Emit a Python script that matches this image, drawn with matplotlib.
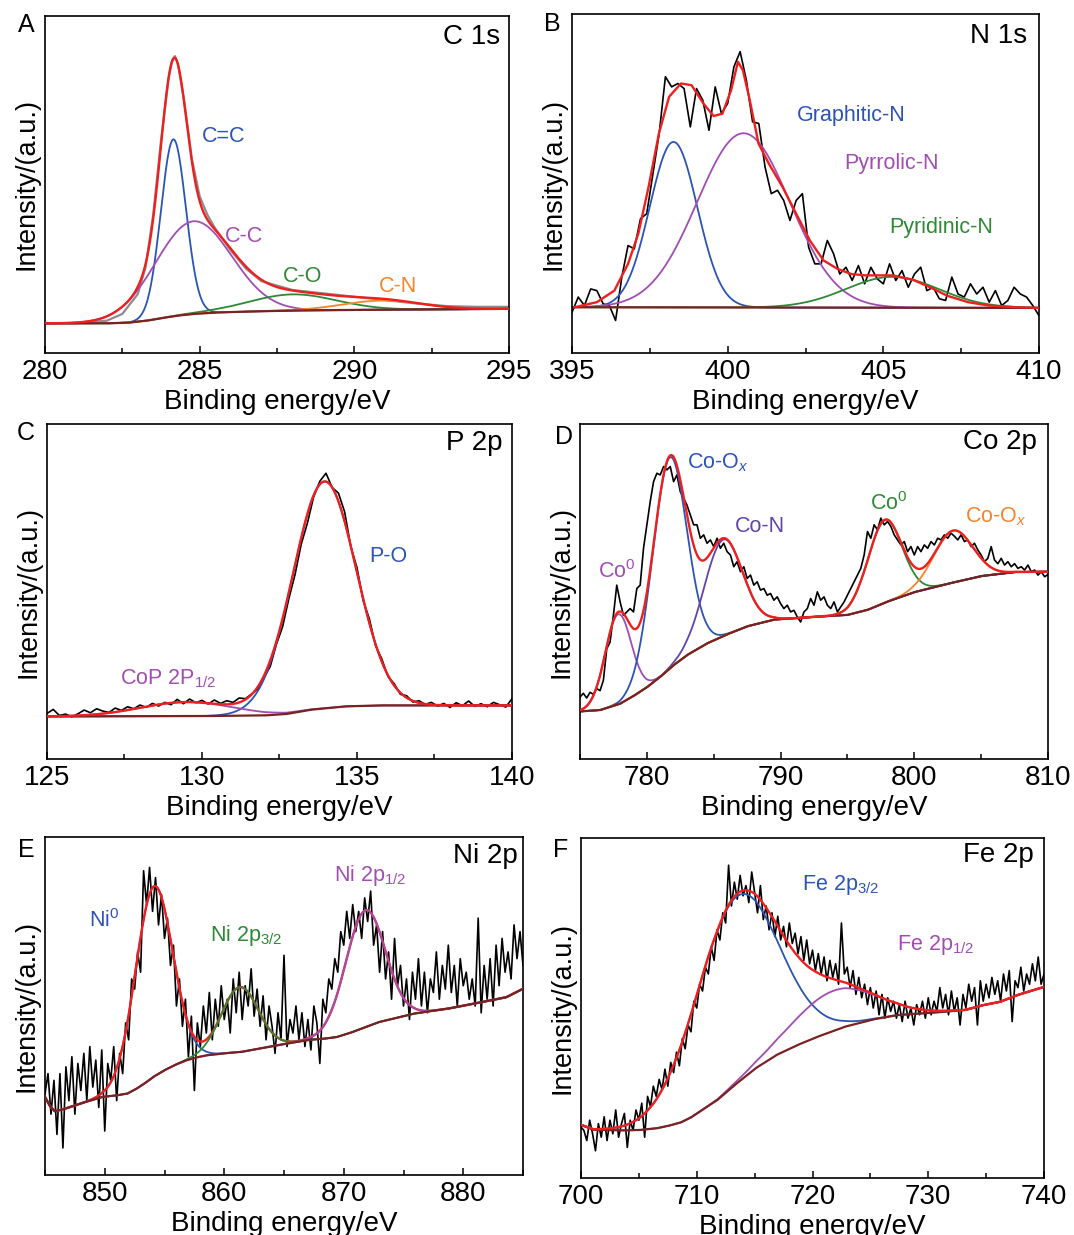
import numpy as np
import matplotlib.pyplot as plt
from matplotlib.ticker import MultipleLocator

plt.rcParams['font.family'] = ['Liberation Sans', 'DejaVu Sans']
plt.rcParams['mathtext.fontset'] = 'custom'
plt.rcParams['mathtext.rm'] = 'Liberation Sans'
plt.rcParams['mathtext.it'] = 'Liberation Sans:italic'
plt.rcParams['mathtext.bf'] = 'Liberation Sans:bold'

W, H = 1074, 1235

RED = '#ee1f1f'
BLUE = '#2b54b5'
PURPLE = '#a24db3'
GREEN = '#2c8a34'
ORANGE = '#f7832b'
VIOLET = '#6045ab'
BROWN = '#7a2222'

# intensities are read as % of the axis height (0 = bottom, 100 = top)

# ---------- A: C 1s ----------
c1s_raw_x = [280, 281, 282, 282.5, 283, 283.25, 283.5, 283.75, 284, 284.1, 284.2, 284.3,
             284.5, 284.75, 285, 285.25, 285.5, 286, 286.5, 287, 288, 289, 290, 291,
             292, 293, 294, 295]
c1s_raw_y = [8.8, 8.8, 9.6, 11.6, 17.5, 25.4, 41.2, 63.0, 81.7, 86.2, 88.1, 85.7,
             74.8, 57.5, 46.5, 41.0, 37.0, 30.5, 25.0, 21.3, 18.7, 17.7, 16.7, 15.7,
             14.7, 13.9, 13.7, 13.7]
c1s_bg_x = [280, 282, 282.7, 283.3, 283.8, 284.3, 284.8, 285.5, 286.5, 288, 290, 292, 295]
c1s_bg_y = [8.8, 8.8, 9.0, 9.6, 10.4, 11.1, 11.6, 12.0, 12.3, 12.6, 12.8, 12.9, 13.1]
c1s_names = ['C=C', 'C-C', 'C-O', 'C-N']
c1s_center = [284.15, 284.8, 288.0, 290.9]
c1s_height = [52.5, 27.5, 4.8, 2.7]
c1s_fwhm = [0.95, 2.9, 3.3, 3.0]

# ---------- B: N 1s ----------
n1s_raw_y = [12.0, 16.5, 14.0, 18.9, 18.4, 14.5, 14.0, 9.6, 22.4, 31.7,
             30.7, 39.6, 41.1, 52.9, 64.7, 81.5, 78.5, 79.5, 78.0, 66.7,
             78.0, 74.6, 65.7, 78.5, 70.6, 73.6, 84.4, 88.9, 80.5, 68.2,
             67.7, 54.9, 47.0, 48.0, 45.0, 39.1, 45.0, 47.0, 31.2, 26.3,
             26.3, 33.2, 29.3, 23.3, 25.3, 21.4, 25.8, 20.4, 25.3, 21.9,
             20.4, 26.3, 21.4, 24.3, 19.4, 23.3, 25.3, 18.4, 19.4, 16.0,
             15.5, 22.4, 17.4, 16.5, 20.4, 17.4, 19.4, 15.0, 18.4, 14.0,
             15.5, 19.4, 17.4, 16.5, 14.0, 11.0]
n1s_fit_x = [395.09, 395.8, 396.36, 396.8, 397.13, 397.46, 397.79, 398.12, 398.5, 398.84,
             399.22, 399.55, 399.83, 400.11, 400.33, 400.49, 400.71, 400.99, 401.32, 401.76,
             402.2, 402.64, 403.08, 403.53, 403.97, 404.41, 404.85, 405.29, 405.95, 406.5,
             407.05, 407.72, 408.38, 409.26, 409.98]
n1s_fit_y = [13.5, 15.0, 18.4, 26.3, 35.2, 49.0, 64.7, 75.6, 79.5, 79.0,
             73.6, 69.9, 70.6, 77.5, 85.9, 83.4, 74.6, 61.8, 55.9, 49.0,
             41.1, 33.2, 27.3, 24.8, 23.3, 22.9, 22.9, 22.9, 21.6, 19.4,
             16.9, 15.0, 14.0, 13.5, 13.3]
n1s_bg_x = [395, 410]
n1s_bg_y = [13.5, 13.3]
n1s_names = ['Graphitic-N', 'Pyrrolic-N', 'Pyridinic-N']
n1s_center = [398.26, 400.51, 405.29]
n1s_height = [48.8, 51.4, 9.1]
n1s_fwhm = [1.8, 3.5, 3.5]

# ---------- C: P 2p ----------
p2p_raw_y = [13.6, 14.8, 13.0, 13.4, 12.6, 13.5, 14.6, 13.8, 15.0, 14.3,
             13.9, 15.2, 14.5, 15.6, 15.0, 16.1, 15.4, 16.6, 15.8, 16.9,
             16.2, 17.8, 16.5, 17.9, 16.8, 17.5, 16.4, 17.6, 16.6, 17.4,
             16.9, 18.2, 18.0, 19.4, 20.9, 24.3, 27.6, 34.2, 39.5, 47.8,
             55.0, 64.1, 70.4, 78.2, 82.9, 85.3, 81.0, 79.4, 73.8, 63.4,
             57.1, 47.3, 41.8, 33.8, 29.9, 24.6, 22.5, 19.3, 18.9, 17.0,
             17.4, 16.3, 16.9, 15.8, 16.6, 15.4, 16.8, 15.9, 17.3, 15.7,
             16.5, 15.6, 16.9, 16.2, 15.5, 18.0]
p2p_bg_x = [125, 130, 132, 132.7, 133.5, 134.6, 135.7, 137, 140]
p2p_bg_y = [12.7, 12.8, 13.0, 13.4, 14.7, 15.7, 16.0, 16.0, 16.0]
p2p_names = ['P-O', 'CoP 2P$_{1/2}$']
p2p_center = [133.95, 129.5]
p2p_height = [67.7, 4.2]
p2p_fwhm = [2.4, 3.5]

# ---------- D: Co 2p ----------
co2p_raw_y = [18.5, 19.6, 18.2, 19.9, 19.3, 21.0, 20.4, 23.5, 32.9, 34.9,
              42.9, 51.9, 46.9, 42.9, 43.9, 44.9, 43.9, 50.9, 51.9, 62.9,
              69.9, 76.8, 82.8, 85.3, 84.8, 87.3, 86.3, 87.3, 82.8, 84.8,
              79.8, 77.8, 75.8, 72.9, 69.9, 69.9, 65.9, 66.9, 64.4, 65.4,
              63.4, 65.9, 62.9, 64.4, 61.9, 60.9, 57.4, 58.9, 55.9, 57.4,
              53.9, 54.9, 51.9, 52.9, 50.4, 50.9, 48.9, 49.4, 47.4, 48.4,
              46.4, 44.9, 45.9, 43.9, 44.4, 42.4, 40.9, 43.9, 44.9, 47.9,
              45.9, 49.9, 47.4, 48.4, 45.9, 44.9, 46.9, 43.9, 45.4, 46.9,
              48.9, 50.9, 52.9, 54.9, 56.9, 60.9, 67.9, 65.9, 69.9, 68.4,
              71.9, 69.9, 70.9, 69.4, 66.9, 65.4, 63.9, 64.9, 61.9, 63.4,
              60.9, 63.4, 61.9, 63.9, 62.9, 64.9, 63.9, 65.9, 65.4, 66.9,
              65.9, 67.4, 66.5, 65.4, 66.9, 64.9, 65.4, 63.4, 64.4, 62.4,
              60.9, 58.9, 59.9, 63.4, 59.4, 58.3, 59.9, 57.9, 58.9, 57.4,
              58.3, 56.9, 57.4, 56.4, 57.9, 55.9, 56.4, 54.9, 55.9, 54.4,
              55.1]
co2p_bg_x = [775, 776.5, 778, 779, 780, 781, 782, 783, 784.5, 786, 787.5, 789.5,
             792, 795, 796.5, 798, 800, 802.5, 805, 807.5, 810]
co2p_bg_y = [14.2, 14.6, 16.5, 18.8, 21.4, 24.5, 28.0, 31.0, 34.5, 37.2, 39.6, 41.6,
             42.3, 43.0, 44.5, 47.0, 49.8, 52.3, 54.6, 55.8, 55.9]
co2p_names = ['Co$^0$', 'Co-O$_\\mathit{x}$', 'Co-N', 'Co$^0$', 'Co-O$_\\mathit{x}$']
co2p_center = [777.85, 781.7, 785.7, 797.8, 802.9]
co2p_height = [26.9, 63.0, 28.8, 24.7, 15.5]
co2p_fwhm = [2.3, 3.0, 3.3, 3.0, 3.4]

# ---------- E: Ni 2p ----------
ni2p_raw_y = [24, 30, 18, 28, 12, 30, 8, 32, 22, 35, 18, 33, 25, 36, 22, 38, 26, 34, 20, 37,
              13, 33, 28, 38, 22, 36, 30, 45, 40, 58, 55, 66, 60, 90, 80, 91, 78, 88, 74, 83,
              70, 76, 62, 68, 50, 58, 44, 52, 35, 47, 25, 45, 38, 50, 42, 54, 40, 52, 44, 56,
              46, 52, 42, 58, 48, 60, 46, 56, 50, 61, 47, 55, 44, 53, 40, 50, 44, 36, 48, 40,
              65, 38, 46, 42, 50, 40, 48, 38, 46, 37, 50, 45, 33, 52, 48, 58, 55, 64, 60, 72,
              68, 78, 70, 80, 72, 78, 70, 82, 75, 84, 68, 74, 60, 72, 58, 66, 52, 70, 56, 62,
              50, 58, 46, 60, 52, 64, 50, 60, 48, 58, 54, 66, 52, 62, 55, 68, 54, 62, 50, 64,
              56, 60, 52, 58, 50, 76, 48, 62, 52, 64, 50, 68, 56, 70, 60, 66, 58, 74, 64, 72,
              62]
ni2p_bg_x = [845.0, 845.4, 845.8, 846.4, 847.0, 848.4, 849.8, 850.9, 851.9, 852.6, 853.3,
             854.1, 855.0, 855.9, 856.8, 857.7, 858.5, 860.0, 861.4, 864.3, 867.1, 868.3,
             869.4, 870.5, 871.5, 872.9, 875.8, 878.7, 881.5, 883.6, 885.0]
ni2p_bg_y = [23.1, 20.5, 18.9, 19.3, 20.0, 21.6, 23.1, 23.5, 24.1, 25.4, 27.0,
             29.1, 31.0, 32.6, 33.9, 34.8, 35.4, 36.0, 36.4, 38.3, 40.0, 40.3,
             40.8, 42.0, 43.3, 45.2, 47.7, 49.2, 51.1, 52.6, 55.1]
ni2p_names = ['Ni$^0$', 'Ni 2p$_{3/2}$', 'Ni 2p$_{1/2}$']
ni2p_center = [854.1, 861.3, 871.8]
ni2p_height = [56.3, 19.2, 34.6]
ni2p_fwhm = [3.7, 3.6, 3.9]

# ---------- F: Fe 2p ----------
fe2p_raw_y = [15, 14, 11, 17, 13, 8, 16, 12, 18, 11, 17, 13, 20, 12, 16, 19, 9, 17, 14, 20,
              17, 22, 12, 24, 21, 27, 24, 29, 26, 32, 27, 34, 31, 37, 33, 41, 38, 45, 43, 52,
              50, 57, 55, 62, 60, 68, 64, 73, 70, 78, 75, 92, 80, 87, 82, 89, 83, 86, 81, 90,
              84, 78, 86, 76, 80, 73, 78, 71, 77, 70, 74, 68, 75, 69, 72, 66, 71, 64, 70, 63,
              67, 61, 66, 60, 65, 58, 64, 59, 63, 57, 75, 60, 62, 56, 61, 54, 59, 53, 57, 51,
              56, 50, 55, 48, 54, 47, 53, 49, 52, 47, 51, 46, 52, 47, 50, 45, 51, 48, 52, 47,
              53, 48, 52, 49, 56, 50, 54, 48, 55, 49, 53, 45, 54, 50, 57, 52, 56, 45, 58, 52,
              57, 53, 59, 54, 58, 52, 60, 55, 61, 46, 58, 56, 62, 55, 60, 57, 63, 58, 65, 57,
              60]
fe2p_bg_x = [700.0, 701.1, 703.5, 705.0, 706.5, 707.5, 708.6, 709.5, 710.3, 711.8, 713.3,
             715.1, 716.9, 718.7, 720.4, 722.8, 725.2, 727.3, 730.3, 733.2, 734.7, 736.2,
             737.7, 740.0]
fe2p_bg_y = [15.6, 14.2, 14.0, 14.1, 14.6, 15.3, 16.3, 17.8, 19.6, 23.0, 27.4,
             32.3, 36.2, 39.1, 41.5, 44.5, 46.6, 47.9, 48.6, 49.4, 50.8, 51.8,
             53.8, 56.2]
fe2p_names = ['Fe 2p$_{3/2}$', 'Fe 2p$_{1/2}$']
fe2p_center = [713.4, 721.8]
fe2p_height = [55.0, 11.8]
fe2p_fwhm = [8.4, 8.3]


fig = plt.figure(figsize=(W / 100, H / 100), dpi=100)


def add_panel(box, xlim, major, minor):
    l, t, r, b = box
    ax = fig.add_axes([l / W, 1 - b / H, (r - l) / W, (b - t) / H])
    ax.set_xlim(*xlim)
    ax.set_ylim(0, 100)
    ax.set_yticks([])
    ax.xaxis.set_major_locator(MultipleLocator(major))
    ax.xaxis.set_minor_locator(MultipleLocator(minor))
    ax.tick_params(axis='x', which='major', direction='in', length=5, width=1.1,
                   labelsize=20, pad=4.5)
    ax.tick_params(axis='x', which='minor', direction='in', length=3.5, width=1.1)
    for s in ax.spines.values():
        s.set_linewidth(1.2)
    ax.set_xlabel('Binding energy/eV', fontsize=20, labelpad=2.5)
    ax.set_ylabel('Intensity/(a.u.)', fontsize=19.5, labelpad=4)
    return ax


def draw_fit(ax, raw_x, raw_y, bg_x, bg_y, centers, heights, fwhms, colors, zs,
             raw_color='k', raw_lw=1.2, fit_x=None, fit_y=None, red_z=3, bg_z=2.5):
    x0, x1 = ax.get_xlim()
    x = np.linspace(x0, x1, 1200)
    bg = np.interp(x, bg_x, bg_y)
    ax.plot(raw_x, raw_y, color=raw_color, lw=raw_lw, zorder=1)
    total = bg.copy()
    for c, h, w, col, z in zip(centers, heights, fwhms, colors, zs):
        p = h * np.exp(-4 * np.log(2) * ((x - c) / w) ** 2)
        total = total + p
        ax.plot(x, bg + p, color=col, lw=1.3, zorder=z)
    if fit_x is None:
        ax.plot(x, total, color=RED, lw=1.7, zorder=red_z)
    else:
        ax.plot(fit_x, fit_y, color=RED, lw=1.7, zorder=red_z)
    ax.plot(x, bg, color=BROWN, lw=1.6, zorder=bg_z)


def label(x, y, s, color='k', size=15.5, ha='center'):
    fig.text(x / W, 1 - y / H, s, color=color, fontsize=size, ha=ha, va='center')


# A
ax = add_panel((45, 16, 509, 353), (280, 295), 5, 2.5)
draw_fit(ax, c1s_raw_x, c1s_raw_y, c1s_bg_x, c1s_bg_y, c1s_center, c1s_height, c1s_fwhm,
         [BLUE, PURPLE, GREEN, ORANGE], [2, 2, 2, 2], raw_color='#8c8c8c', raw_lw=1.6)
for s, xy, col in zip(c1s_names, [(224, 137), (244, 236), (303, 277), (398, 286)],
                      [BLUE, PURPLE, GREEN, ORANGE]):
    label(xy[0], xy[1], s, col)
label(500, 37, 'C 1s', size=20, ha='right')
label(26, 25, 'A', size=18)

# B
ax = add_panel((572, 14, 1039, 353), (395, 410), 5, 2.5)
draw_fit(ax, np.linspace(395, 410, len(n1s_raw_y)), n1s_raw_y, n1s_bg_x, n1s_bg_y,
         n1s_center, n1s_height, n1s_fwhm, [BLUE, PURPLE, GREEN], [2, 2, 2],
         fit_x=n1s_fit_x, fit_y=n1s_fit_y)
for s, xy, col in zip(n1s_names, [(851, 115), (891, 164), (941, 227)], [BLUE, PURPLE, GREEN]):
    label(xy[0], xy[1], s, col)
label(1027, 36, 'N 1s', size=20, ha='right')
label(552, 24, 'B', size=18)

# C
ax = add_panel((47, 424, 512, 759), (125, 140), 5, 2.5)
draw_fit(ax, np.linspace(125, 140, len(p2p_raw_y)), p2p_raw_y, p2p_bg_x, p2p_bg_y,
         p2p_center, p2p_height, p2p_fwhm, [BLUE, PURPLE], [2, 2])
label(388, 557, p2p_names[0], BLUE)
label(168, 679, p2p_names[1], PURPLE)
label(502, 443, 'P 2p', size=20, ha='right')
label(26, 433, 'C', size=18)

# D
ax = add_panel((580, 424, 1048, 759), (775, 810), 10, 5)
d_cols = [PURPLE, BLUE, VIOLET, GREEN, ORANGE]
draw_fit(ax, np.linspace(775, 810, len(co2p_raw_y)), co2p_raw_y, co2p_bg_x, co2p_bg_y,
         co2p_center, co2p_height, co2p_fwhm, d_cols, [2] * 5)
for s, xy, col in zip(co2p_names, [(617, 572), (718, 463), (760, 527), (889, 504), (996, 517)],
                      d_cols):
    label(xy[0], xy[1], s, col)
label(1037, 442, 'Co 2p', size=20, ha='right')
label(564, 437, 'D', size=18)

# E
ax = add_panel((45, 837, 523, 1175), (845, 885), 10, 5)
e_cols = [BLUE, GREEN, PURPLE]
draw_fit(ax, np.linspace(845, 885, len(ni2p_raw_y)), ni2p_raw_y, ni2p_bg_x, ni2p_bg_y,
         ni2p_center, ni2p_height, ni2p_fwhm, e_cols, [2, 3.5, 3.5], red_z=3, bg_z=3.6)
for s, xy, col in zip(ni2p_names, [(104, 921), (246, 936), (370, 876)], e_cols):
    label(xy[0], xy[1], s, col)
label(518, 856, 'Ni 2p', size=20, ha='right')
label(26, 850, 'E', size=18)

# F
ax = add_panel((581, 838, 1044, 1178), (700, 740), 10, 5)
draw_fit(ax, np.linspace(700, 740, len(fe2p_raw_y)), fe2p_raw_y, fe2p_bg_x, fe2p_bg_y,
         fe2p_center, fe2p_height, fe2p_fwhm, [BLUE, PURPLE], [2, 2])
label(841, 885, fe2p_names[0], BLUE)
label(936, 945, fe2p_names[1], PURPLE)
label(1034, 855, 'Fe 2p', size=20, ha='right')
label(561, 850, 'F', size=18)

fig.savefig('out.png', dpi=100)
plt.close(fig)
